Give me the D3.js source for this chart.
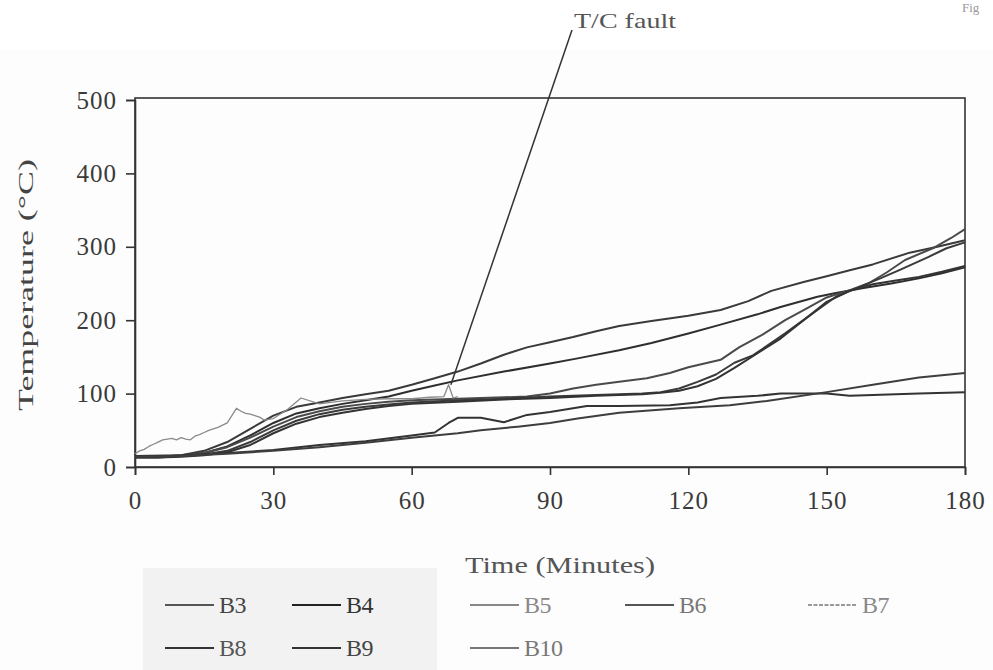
<!DOCTYPE html>
<html>
<head>
<meta charset="utf-8">
<script src="https://cdn.jsdelivr.net/npm/d3@7"></script>
<style>
  html, body { margin: 0; padding: 0; background: #fdfdfd; }
  svg { display: block; }
  text { font-family: "Liberation Serif", "DejaVu Serif", serif; }
</style>
</head>
<body>
<svg id="chart" width="993" height="670"></svg>
<script>
// ---------- data ----------
const seriesNames = ["B3", "B4", "B5", "B6", "B7", "B8", "B9", "B10"];
const xTickValues = [0, 30, 60, 90, 120, 150, 180];
const yTickValues = [0, 100, 200, 300, 400, 500];

const b3T = [0,5,10,15,20,25,30,35,40,45,50,55,60,65,70,75,80,85,90,95,100,105,112,120,127,133,138,145,150,155,160,168,174,180];
const b3V = [14,14,16,22,34,52,70,82,88,94,99,104,112,121,130,141,153,163,170,177,185,192,199,206,214,226,240,252,260,268,276,292,300,309];

const b4T = [0,5,10,15,20,25,30,35,40,45,50,55,60,65,70,80,90,96,105,112,120,127,135,140,148,152,158,164,170,175,180];
const b4V = [14,14,15,19,28,43,60,73,80,86,91,96,104,111,118,130,141,148,159,169,182,194,208,218,232,237,244,250,257,264,272];

const b5T = [0,5,10,15,20,25,30,35,40,45,50,55,60,70,80,85,90,95,100,105,111,116,120,127,131,136,141,146,150,155,159,163,167,173,177,180];
const b5V = [14,14,16,19,27,40,55,68,76,82,86,89,91,93,95,96,100,107,112,116,121,128,136,146,163,180,200,217,231,241,250,265,282,298,312,324];

const b6T = [0,5,10,15,20,25,30,35,40,45,50,55,60,70,80,90,100,110,114,118,122,126,130,134,141,148,152,157,162,166,172,176,180];
const b6V = [13,13,15,17,22,34,50,63,72,78,82,85,88,91,93,96,98,100,102,107,116,126,142,152,182,214,232,245,258,269,286,298,306];

const b7T = [0,1,2,3,4,5,6,7,8,9,10,11,12,13,14,15,16,17,18,19,20,21,22,23,24,25,26,27,28,30,33,36,40,45,50,55,60,64,67,68,69,70];
const b7V = [18,22,24,28,31,34,37,38,39,37,40,38,37,42,44,47,50,52,54,57,60,70,80,76,73,72,70,68,64,66,78,94,86,90,92,93,93,95,96,112,94,96];

const b8T = [0,5,10,15,20,25,30,35,40,45,50,55,60,70,80,90,100,110,114,118,122,126,130,135,140,145,150,155,160,165,170,175,180];
const b8V = [13,13,14,16,20,30,46,59,68,74,79,83,86,89,92,94,97,99,101,104,110,120,135,155,175,200,225,240,249,254,259,266,274];

const b9T = [0,10,20,30,40,50,60,65,68,70,75,80,85,90,98,105,116,122,127,135,140,150,155,160,170,180];
const b9V = [15,16,19,23,30,35,43,47,60,67,67,61,71,75,83,83,84,88,94,97,100,100,97,98,100,102];

const b10T = [0,10,20,30,40,50,60,70,75,83,90,96,105,118,129,137,150,160,170,180];
const b10V = [14,15,18,22,27,33,40,46,50,55,60,66,74,80,84,90,102,112,122,128];

const faultPoint = [68.5, 112];

// ---------- styles ----------
const lineColors  = ["#3a3a3a","#2e2e2e","#4a4a4a","#3a3a3a","#8a8a8a","#333333","#333333","#3e3e3e"];
const legendLine  = ["#555","#222","#888","#555","#999","#333","#333","#777"];
const legendText  = ["#444","#333","#888","#777","#888","#555","#444","#777"];

const series = [
  {name:"B3", t:b3T, v:b3V},
  {name:"B4", t:b4T, v:b4V},
  {name:"B5", t:b5T, v:b5V},
  {name:"B6", t:b6T, v:b6V},
  {name:"B7", t:b7T, v:b7V},
  {name:"B8", t:b8T, v:b8V},
  {name:"B9", t:b9T, v:b9V},
  {name:"B10", t:b10T, v:b10V}
];

const svg = d3.select("#chart");
const W = 993, H = 670;
const plot = {left:135, right:965, top:100, bottom:467};

svg.append("rect").attr("x",0).attr("y",0).attr("width",W).attr("height",50).attr("fill","#ffffff");

const x = d3.scaleLinear().domain([0,180]).range([plot.left, plot.right]);
const y = d3.scaleLinear().domain([0,500]).range([plot.bottom, plot.top]);

// frame
svg.append("rect")
  .attr("x", plot.left).attr("y", y(500) - 2)
  .attr("width", plot.right - plot.left).attr("height", plot.bottom - y(500) + 2)
  .attr("fill","none").attr("stroke","#333").attr("stroke-width",1.6);

// axes
const yAxis = d3.axisLeft(y).tickValues(yTickValues).tickSize(9).tickPadding(8).tickFormat(d3.format("d"));
const gy = svg.append("g").attr("transform",`translate(${plot.left},0)`).call(yAxis);
const xAxis = d3.axisBottom(x).tickValues(xTickValues).tickSize(8).tickPadding(16).tickFormat(d3.format("d"));
const gx = svg.append("g").attr("transform",`translate(0,${plot.bottom})`).call(xAxis);
[gx, gy].forEach(g => {
  g.select(".domain").attr("stroke","#333").attr("stroke-width",1.6);
  g.selectAll(".tick line").attr("stroke","#333").attr("stroke-width",1.6);
  g.selectAll(".tick text").attr("fill","#3a3a3a").attr("font-size",25)
    .attr("font-family","Liberation Serif, serif").attr("letter-spacing", 1);
});
gy.selectAll(".tick text").attr("dx", -1);

// lines
const line = d3.line().x(d => x(d[0])).y(d => y(d[1]));
series.forEach((s, i) => {
  const pts = s.t.map((t, k) => [t, s.v[k]]);
  svg.append("path")
    .datum(pts)
    .attr("d", line)
    .attr("fill","none")
    .attr("stroke", lineColors[i])
    .attr("stroke-width", s.name === "B7" ? 1.3 : 2)
    .attr("stroke-linejoin","round");
});

// annotation
svg.append("line")
  .attr("x1", 572).attr("y1", 30)
  .attr("x2", x(faultPoint[0])).attr("y2", y(faultPoint[1]))
  .attr("stroke","#333").attr("stroke-width",1.5);
svg.append("text").attr("x",574).attr("y",28)
  .attr("font-size",22).attr("fill","#555")
  .attr("textLength",102).attr("lengthAdjust","spacingAndGlyphs")
  .text("T/C fault");

// figure label top-right (cut in the original scan)
svg.append("text").attr("x",962).attr("y",12).attr("font-size",13).attr("fill","#999").text("Fig");

// axis titles
svg.append("text")
  .attr("transform","translate(33,285) rotate(-90)")
  .attr("text-anchor","middle").attr("font-size",22).attr("fill","#444")
  .attr("textLength",252).attr("lengthAdjust","spacingAndGlyphs")
  .text("Temperature (°C)");
svg.append("text")
  .attr("x",560).attr("y",573)
  .attr("text-anchor","middle").attr("font-size",23).attr("fill","#555")
  .attr("textLength",190).attr("lengthAdjust","spacingAndGlyphs")
  .text("Time (Minutes)");

// legend
svg.append("rect").attr("x",143).attr("y",568).attr("width",294).attr("height",102).attr("fill","#f2f2f2");
const legendX = [165, 292, 470, 625, 808, 165, 292, 470];
const legendY = [605, 605, 605, 605, 605, 648, 648, 648];
seriesNames.forEach((n, i) => {
  const g = svg.append("g").attr("transform",`translate(${legendX[i]},${legendY[i]})`);
  g.append("line").attr("x1",0).attr("x2",49).attr("y1",0).attr("y2",0)
    .attr("stroke", legendLine[i]).attr("stroke-width",1.8)
    .attr("stroke-dasharray", n === "B7" ? "4,1.5" : null);
  g.append("text").attr("x",54).attr("y",8).attr("font-size",24)
    .attr("fill", legendText[i]).attr("letter-spacing",-0.5).text(n);
});
</script>
</body>
</html>
